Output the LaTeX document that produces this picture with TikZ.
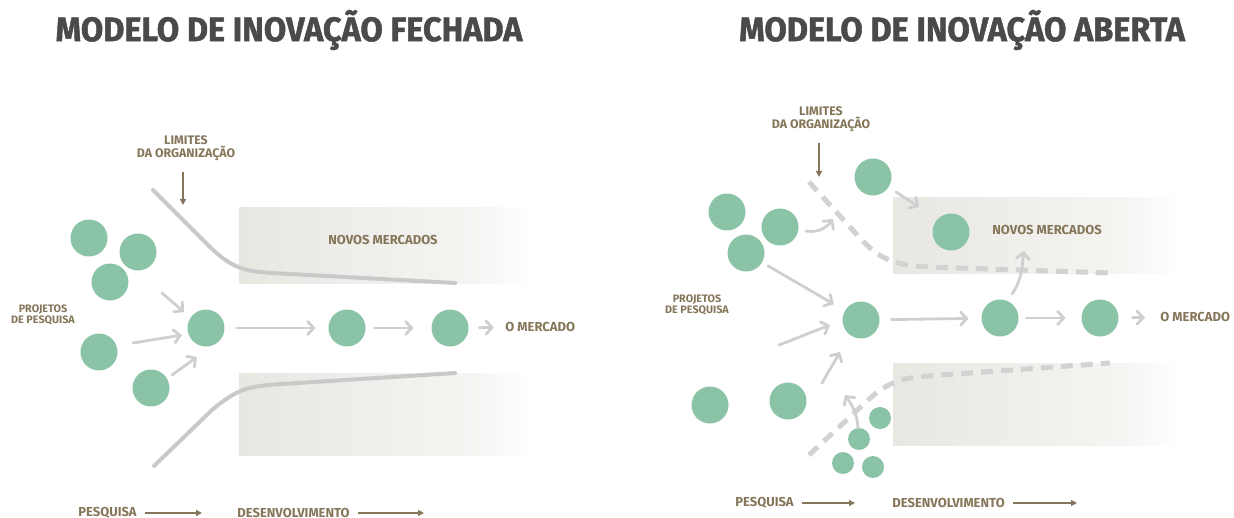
\documentclass[tikz,border=0pt]{standalone}
\usepackage{fontspec}
\setmainfont{Fira Sans}
\newfontfamily\titlefont[BoldFeatures={FakeBold=1.4}]{Fira Sans}
\usetikzlibrary{arrows.meta}
\definecolor{dotgreen}{HTML}{8BC3A7}
\definecolor{flowgray}{HTML}{CFCFCF}
\definecolor{edgegray}{HTML}{C9C9C9}
\definecolor{dashgray}{HTML}{D2D2D2}
\definecolor{labbrown}{HTML}{85765A}
\definecolor{bandgray}{HTML}{E8E7E2}
\definecolor{titlegray}{HTML}{4A4A4A}
\begin{document}
\begin{tikzpicture}[x=0.5pt,y=-0.5pt,
  dot/.style={circle,fill=dotgreen,minimum size=18.5pt,inner sep=0pt},
  sdot/.style={circle,fill=dotgreen,minimum size=11pt,inner sep=0pt},
  flow/.style={draw=flowgray,line width=1.4pt,line cap=round,-{Straight Barb[length=3pt,width=6.5pt,line cap=round]}},
  edgeline/.style={draw=edgegray,line width=2pt,line cap=round},
  dashline/.style={draw=dashgray,line width=2.5pt,dash pattern=on 6pt off 4pt},
  brarrow/.style={draw=labbrown,line width=0.8pt,-{Triangle[length=3pt,width=3pt]}},
  title/.style={font=\titlefont\bfseries\fontsize{17}{17}\selectfont,text=titlegray,inner sep=0pt},
  lab/.style={font=\bfseries\fontsize{6.5}{7.5}\selectfont,text=labbrown,inner sep=0pt,align=center},
  slab/.style={font=\bfseries\fontsize{6.2}{6.6}\selectfont,text=labbrown,inner sep=0pt,align=center},
  xslab/.style={font=\bfseries\fontsize{5.4}{5.6}\selectfont,text=labbrown,inner sep=0pt,align=center}
]
\useasboundingbox (0,0) rectangle (1234,518);

% ---------- titles
\node[title] (t1) at (289,30) {\scalebox{0.955}[1]{MODELO DE INOVAÇÃO FECHADA}};
\node[title] (t2) at (962,30) {\scalebox{0.955}[1]{MODELO DE INOVAÇÃO ABERTA}};

% ---------- bands
\shade[left color=bandgray,right color=bandgray!45] (239,207) rectangle (470,283);
\shade[left color=bandgray!45,right color=white] (469.5,207) rectangle (532,283);
\shade[left color=bandgray,right color=bandgray!45] (239,373) rectangle (470,455);
\shade[left color=bandgray!45,right color=white] (469.5,373) rectangle (532,455);
\shade[left color=bandgray,right color=bandgray!45] (893,197) rectangle (1120,273);
\shade[left color=bandgray!45,right color=white] (1119.5,197) rectangle (1181,273);
\shade[left color=bandgray,right color=bandgray!45] (893,363) rectangle (1120,445);
\shade[left color=bandgray!45,right color=white] (1119.5,363) rectangle (1181,445);

% ---------- LEFT: closed innovation
\draw[edgeline] (153,190) -- (203,240) .. controls (230,268) and (242,271) .. (272,273) -- (455,283);
\draw[edgeline] (154,466) -- (212,410) .. controls (238,388) and (250,386) .. (282,384) -- (455,373);

\node[slab] (lim1) at (186,148) {LIMITES\\DA ORGANIZAÇÃO};
\coordinate (la) at (183,205);
\draw[brarrow] (lim1.south -| la) ++(0,11) -- (la);

\node[lab] (nm1) at (383,240) {NOVOS MERCADOS};
\node[xslab] (pp1) at (43,315) {PROJETOS\\DE PESQUISA};

\node[dot] (L1) at (89,238) {};
\node[dot] (L2) at (138,252) {};
\node[dot] (L3) at (110,282) {};
\node[dot] (L4) at (99,352) {};
\node[dot] (L5) at (151,388) {};
\node[dot] (L6) at (206,328) {};
\node[dot] (L7) at (347,328) {};
\node[dot] (L8) at (450,328) {};
\node[lab,anchor=west] (lmk) at (505,327) {O MERCADO};

\coordinate (a1s) at (162,293); \coordinate (a1e) at (184,312);
\coordinate (a2s) at (133,343); \coordinate (a2e) at (182,335);
\coordinate (a3s) at (172,375); \coordinate (a3e) at (197,357);
\draw[flow] (a1s) -- (a1e);
\draw[flow] (a2s) -- (a2e);
\draw[flow] (a3s) -- (a3e);
\draw[flow,shorten <=5.75pt,shorten >=6.25pt] (L6) -- (L7);
\draw[flow,shorten <=4.25pt,shorten >=8.75pt] (L7) -- (L8);
\draw[flow,shorten <=5.25pt,shorten >=5.5pt] (L8) -- (lmk);

\node[lab,anchor=west] (pes1) at (78,513) {PESQUISA};
\coordinate (pa1) at (202,513);
\draw[brarrow] ([xshift=4pt]pes1.east) -- (pa1);
\node[lab,anchor=west] (des1) at (237,513) {DESENVOLVIMENTO};
\coordinate (da1) at (424,513);
\draw[brarrow] ([xshift=4pt]des1.east) -- (da1);

% ---------- RIGHT: open innovation
\draw[dashline] (809,182) -- (860,238) .. controls (880,260) and (895,265) .. (928,267) -- (1110,273);
\draw[dashline] (809,455) -- (866,402) .. controls (884,385) and (897,378) .. (928,376) -- (1110,363);

\node[slab] (lim2) at (821,119) {LIMITES\\DA ORGANIZAÇÃO};
\coordinate (lb) at (819,177);
\draw[brarrow] (lim2.south -| lb) ++(0,11) -- (lb);

\node[lab] (nm2) at (1047,230) {NOVOS MERCADOS};
\node[xslab] (pp2) at (697,305) {PROJETOS\\DE PESQUISA};

\node[dot] (R1) at (873,177) {};
\node[dot] (R2) at (727,212) {};
\node[dot] (R3) at (780,227) {};
\node[dot] (R4) at (746,253) {};
\node[dot] (R5) at (951,232) {};
\node[dot] (R6) at (861,320) {};
\node[dot] (R7) at (1000,318) {};
\node[dot] (R8) at (1100,318) {};
\node[dot] (R9) at (710,405) {};
\node[dot] (R10) at (788,401) {};
\node[sdot] (S1) at (880,418) {};
\node[sdot] (S2) at (859,439) {};
\node[sdot] (S3) at (843,463) {};
\node[sdot] (S4) at (873,467) {};
\node[lab,anchor=west] (rmk) at (1160,317) {O MERCADO};

\coordinate (b1e) at (919,207);
\draw[flow,shorten <=4.3pt] (R1) -- (b1e);
\coordinate (b2s) at (806,231); \coordinate (b2e) at (833,219);
\draw[flow] (b2s) .. controls (818,233) and (826,228) .. (b2e);
\draw[flow,shorten <=3.25pt,shorten >=6.25pt] (R4) -- (R6);
\coordinate (b4s) at (779,345); \coordinate (b4e) at (830,325);
\draw[flow] (b4s) -- (b4e);
\coordinate (b5s) at (822,383); \coordinate (b5e) at (840,352);
\draw[flow] (b5s) -- (b5e);
\coordinate (b6s) at (1012,294); \coordinate (b6e) at (1024,251);
\draw[flow] (b6s) .. controls (1022,280) and (1022,266) .. (b6e);
\coordinate (b7s) at (858,428); \coordinate (b7e) at (845,395);
\draw[flow] (b7s) .. controls (857,413) and (852,405) .. (b7e);
\draw[flow,shorten <=5.75pt,shorten >=6.25pt] (R6) -- (R7);
\draw[flow,shorten <=3.75pt,shorten >=7.75pt] (R7) -- (R8);
\draw[flow,shorten <=6.75pt,shorten >=7.5pt] (R8) -- (rmk);

\node[lab,anchor=west] (pes2) at (735,503) {PESQUISA};
\coordinate (pa2) at (855,503);
\draw[brarrow] ([xshift=4pt]pes2.east) -- (pa2);
\node[lab,anchor=west] (des2) at (892,503) {DESENVOLVIMENTO};
\coordinate (da2) at (1077,503);
\draw[brarrow] ([xshift=4pt]des2.east) -- (da2);
\end{tikzpicture}
\end{document}
